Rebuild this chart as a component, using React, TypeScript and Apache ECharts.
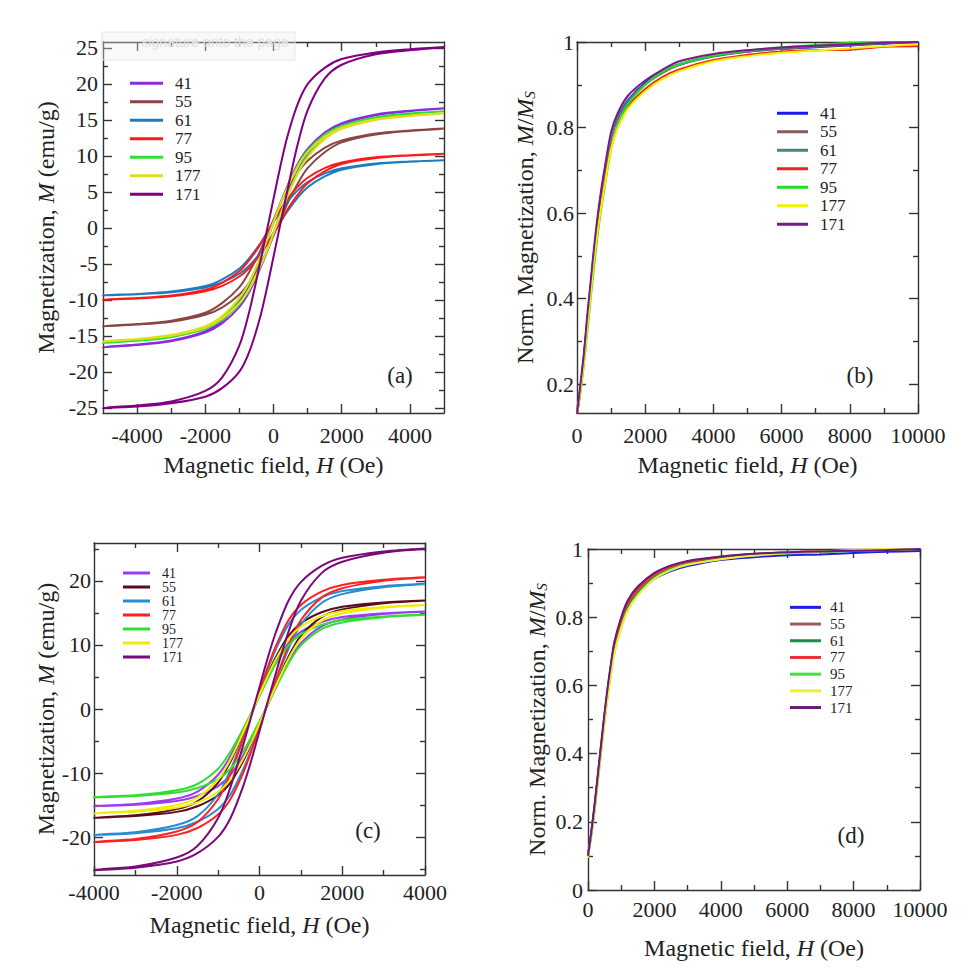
import React, { useEffect, useRef } from 'react';
import * as echarts from 'echarts';

// ---- samples ----
const samples = ['41', '55', '61', '77', '95', '177', '171'];

// ---- field grids (Oe) ----
const fieldA = [-5000, -4000, -3000, -2000, -1500, -1000, -700, -400, -200, 0, 200, 400, 700, 1000, 1500, 2000, 3000, 4000, 5000];
const fieldC = [-4000, -3000, -2000, -1500, -1000, -700, -400, -200, 0, 200, 400, 700, 1000, 1500, 2000, 3000, 4000];
const fieldNorm = [0, 100, 200, 300, 400, 500, 600, 700, 800, 1000, 1200, 1500, 2000, 2500, 3000, 4000, 5000, 6000, 7000, 8000, 9000, 10000];

// ---- panel (a): hysteresis loops, M (emu/g); up = increasing field, down = decreasing field ----
const upA41 = [-16.6, -16.27, -15.74, -14.54, -13.23, -10.97, -8.8, -5.73, -3.45, -0.8, 1.86, 4.45, 7.8, 10.23, 12.83, 14.34, 15.64, 16.2, 16.57];
const downA41 = [-16.57, -16.2, -15.64, -14.34, -12.83, -10.23, -7.8, -4.45, -1.86, 0.8, 3.45, 5.73, 8.8, 10.97, 13.23, 14.54, 15.74, 16.27, 16.6];
const upA55 = [-13.7, -13.43, -13.02, -12.06, -11.03, -9.25, -7.54, -5.21, -3.29, -1.1, 1.1, 3.31, 6.07, 8.28, 10.49, 11.87, 12.97, 13.46, 13.76];
const downA55 = [-13.66, -13.36, -12.88, -11.78, -10.41, -8.22, -6.03, -3.29, -1.1, 1.1, 3.31, 5.24, 7.59, 9.32, 11.11, 12.14, 13.11, 13.52, 13.8];
const upA61 = [-9.4, -9.21, -8.93, -8.27, -7.57, -6.35, -5.17, -3.57, -2.26, -0.75, 0.75, 2.26, 4.14, 5.64, 7.14, 8.08, 8.84, 9.17, 9.37];
const downA61 = [-9.37, -9.17, -8.84, -8.08, -7.14, -5.64, -4.14, -2.26, -0.75, 0.75, 2.26, 3.57, 5.17, 6.35, 7.57, 8.27, 8.93, 9.21, 9.4];
const upA77 = [-10.0, -9.8, -9.5, -8.8, -8.05, -6.75, -5.5, -3.8, -2.4, -0.8, 0.82, 2.47, 4.53, 6.18, 7.83, 8.86, 9.68, 10.04, 10.27];
const downA77 = [-9.97, -9.75, -9.4, -8.6, -7.6, -6.0, -4.4, -2.4, -0.8, 0.82, 2.47, 3.91, 5.67, 6.95, 8.29, 9.06, 9.79, 10.09, 10.3];
const upA95 = [-16.0, -15.68, -15.17, -14.02, -12.75, -10.58, -8.48, -5.52, -3.33, -0.77, 1.81, 4.34, 7.61, 9.98, 12.52, 14.0, 15.26, 15.81, 16.17];
const downA95 = [-15.97, -15.62, -15.07, -13.82, -12.37, -9.86, -7.52, -4.29, -1.79, 0.78, 3.37, 5.59, 8.59, 10.71, 12.91, 14.19, 15.36, 15.88, 16.2];
const upA177 = [-15.8, -15.48, -14.98, -13.84, -12.59, -10.44, -8.37, -5.45, -3.29, -0.76, 1.78, 4.26, 7.47, 9.79, 12.29, 13.74, 14.98, 15.52, 15.87];
const downA177 = [-15.77, -15.42, -14.88, -13.65, -12.21, -9.73, -7.43, -4.23, -1.77, 0.76, 3.31, 5.49, 8.43, 10.51, 12.67, 13.93, 15.07, 15.58, 15.9];
const upA171 = [-25.1, -24.8, -24.35, -23.44, -22.21, -19.95, -17.07, -12.55, -8.53, -4.02, 0.5, 5.02, 11.42, 16.32, 20.71, 22.64, 24.1, 24.65, 25.02];
const downA171 = [-25.02, -24.65, -24.1, -22.64, -20.71, -16.32, -11.42, -5.02, -0.5, 4.02, 8.53, 12.55, 17.07, 19.95, 22.21, 23.44, 24.35, 24.8, 25.1];

// ---- panel (c): hysteresis loops, M (emu/g) ----
const upC41 = [-15.23, -14.94, -14.35, -13.57, -12.04, -10.26, -7.33, -4.86, -2.08, 0.7, 3.47, 7.33, 10.26, 12.89, 13.97, 14.82, 15.17];
const downC41 = [-15.17, -14.82, -13.97, -12.89, -10.26, -7.33, -3.47, -0.7, 2.08, 4.86, 7.33, 10.26, 12.04, 13.57, 14.35, 14.94, 15.23];
const upC55 = [-17.03, -16.71, -16.05, -15.18, -13.46, -11.48, -8.19, -5.44, -2.33, 0.78, 3.85, 8.15, 11.41, 14.33, 15.53, 16.48, 16.87];
const downC55 = [-16.97, -16.58, -15.62, -14.42, -11.48, -8.19, -3.88, -0.78, 2.32, 5.41, 8.15, 11.41, 13.38, 15.09, 15.95, 16.61, 16.93];
const upC61 = [-19.74, -19.37, -18.6, -17.59, -15.6, -13.3, -9.5, -6.3, -2.7, 0.9, 4.45, 9.4, 13.16, 16.54, 17.92, 19.01, 19.46];
const downC61 = [-19.66, -19.21, -18.1, -16.71, -13.3, -9.5, -4.49, -0.91, 2.67, 6.24, 9.4, 13.16, 15.44, 17.41, 18.41, 19.17, 19.54];
const upC77 = [-20.84, -20.45, -19.64, -18.57, -16.47, -14.04, -10.03, -6.66, -2.85, 0.94, 4.67, 9.88, 13.84, 17.38, 18.84, 19.99, 20.46];
const downC77 = [-20.76, -20.28, -19.12, -17.64, -14.04, -10.03, -4.74, -0.96, 2.81, 6.56, 9.88, 13.84, 16.24, 18.31, 19.35, 20.15, 20.54];
const upC95 = [-13.83, -13.57, -13.03, -12.32, -10.93, -9.32, -6.65, -4.42, -1.89, 0.68, 3.35, 7.09, 9.92, 12.47, 13.51, 14.33, 14.67];
const downC95 = [-13.77, -13.46, -12.68, -11.7, -9.32, -6.65, -3.15, -0.63, 2.01, 4.7, 7.09, 9.92, 11.64, 13.13, 13.88, 14.45, 14.73];
const upC177 = [-16.33, -16.02, -15.39, -14.56, -12.91, -11.0, -7.86, -5.22, -2.23, 0.75, 3.69, 7.81, 10.94, 13.74, 14.89, 15.8, 16.17];
const downC177 = [-16.27, -15.89, -14.98, -13.82, -11.0, -7.86, -3.72, -0.75, 2.22, 5.18, 7.81, 10.94, 12.83, 14.47, 15.29, 15.92, 16.23];
const upC171 = [-25.25, -24.77, -23.79, -22.5, -19.96, -17.01, -12.15, -8.06, -3.45, 1.15, 5.7, 12.05, 16.88, 21.2, 22.98, 24.38, 24.95];
const downC171 = [-25.15, -24.57, -23.16, -21.37, -17.01, -12.15, -5.75, -1.16, 3.43, 8.0, 12.05, 16.88, 19.8, 22.33, 23.6, 24.58, 25.05];

// ---- panel (b): normalized magnetization M/Ms ----
const normB41 = [0.13, 0.19, 0.265, 0.35, 0.43, 0.51, 0.58, 0.64, 0.69, 0.78, 0.825, 0.865, 0.905, 0.93, 0.948, 0.968, 0.978, 0.984, 0.988, 0.992, 0.996, 1.0];
const normB55 = [0.13, 0.19, 0.26, 0.345, 0.425, 0.505, 0.575, 0.635, 0.685, 0.775, 0.82, 0.86, 0.9, 0.927, 0.946, 0.966, 0.977, 0.984, 0.989, 0.993, 0.997, 1.0];
const normB61 = [0.13, 0.19, 0.262, 0.347, 0.428, 0.507, 0.578, 0.638, 0.688, 0.777, 0.822, 0.862, 0.902, 0.929, 0.947, 0.967, 0.978, 0.985, 0.99, 0.994, 0.997, 1.0];
const normB77 = [0.13, 0.19, 0.26, 0.34, 0.42, 0.5, 0.565, 0.62, 0.67, 0.755, 0.805, 0.85, 0.89, 0.918, 0.936, 0.958, 0.97, 0.978, 0.981, 0.982, 0.989, 0.99];
const normB95 = [0.13, 0.18, 0.245, 0.32, 0.4, 0.475, 0.545, 0.605, 0.655, 0.75, 0.805, 0.855, 0.9, 0.93, 0.948, 0.968, 0.98, 0.988, 0.993, 0.998, 1.0, 1.0];
const normB177 = [0.13, 0.185, 0.25, 0.33, 0.41, 0.49, 0.555, 0.61, 0.66, 0.75, 0.8, 0.845, 0.885, 0.913, 0.932, 0.955, 0.967, 0.975, 0.98, 0.985, 0.99, 0.995];
const normB171 = [0.13, 0.2, 0.27, 0.36, 0.44, 0.52, 0.59, 0.65, 0.7, 0.79, 0.835, 0.875, 0.91, 0.935, 0.955, 0.972, 0.981, 0.987, 0.991, 0.995, 0.998, 1.0];

// ---- panel (d): normalized magnetization M/Ms ----
const normD41 = [0.1, 0.165, 0.24, 0.33, 0.42, 0.505, 0.585, 0.65, 0.71, 0.78, 0.83, 0.87, 0.912, 0.935, 0.95, 0.968, 0.976, 0.982, 0.984, 0.988, 0.992, 0.994];
const normD55 = [0.1, 0.17, 0.25, 0.34, 0.43, 0.515, 0.595, 0.665, 0.725, 0.795, 0.845, 0.885, 0.927, 0.95, 0.963, 0.977, 0.985, 0.99, 0.993, 0.995, 0.997, 1.0];
const normD61 = [0.1, 0.165, 0.242, 0.332, 0.42, 0.505, 0.583, 0.65, 0.708, 0.778, 0.83, 0.872, 0.918, 0.942, 0.957, 0.972, 0.982, 0.988, 0.992, 0.995, 0.997, 1.0];
const normD77 = [0.1, 0.17, 0.248, 0.338, 0.428, 0.513, 0.592, 0.66, 0.72, 0.79, 0.84, 0.88, 0.924, 0.948, 0.962, 0.976, 0.985, 0.99, 0.993, 0.995, 0.997, 1.0];
const normD95 = [0.1, 0.16, 0.235, 0.322, 0.41, 0.495, 0.573, 0.64, 0.698, 0.77, 0.822, 0.866, 0.914, 0.94, 0.955, 0.97, 0.981, 0.987, 0.991, 0.994, 0.997, 1.0];
const normD177 = [0.095, 0.16, 0.235, 0.32, 0.408, 0.492, 0.57, 0.638, 0.696, 0.768, 0.82, 0.864, 0.912, 0.938, 0.954, 0.97, 0.981, 0.988, 0.993, 0.997, 1.0, 1.0];
const normD171 = [0.1, 0.17, 0.25, 0.34, 0.43, 0.52, 0.6, 0.67, 0.73, 0.8, 0.85, 0.89, 0.93, 0.952, 0.965, 0.978, 0.986, 0.99, 0.993, 0.995, 0.997, 1.0];

// ---- tick positions ----
const ticksA_xMajor = [-4000, -2000, 0, 2000, 4000];
const ticksA_xMinor = [-3000, -1000, 1000, 3000];
const ticksA_yMajor = [-25, -20, -15, -10, -5, 0, 5, 10, 15, 20, 25];
const ticksA_yMinor = [-22.5, -17.5, -12.5, -7.5, -2.5, 2.5, 7.5, 12.5, 17.5, 22.5];
const ticksN_xMajor = [0, 2000, 4000, 6000, 8000, 10000];
const ticksN_xMinor = [1000, 3000, 5000, 7000, 9000];
const ticksB_yMajor = [0.2, 0.4, 0.6, 0.8, 1];
const ticksB_yMinor = [0.3, 0.5, 0.7, 0.9];
const ticksC_xMajor = [-4000, -2000, 0, 2000, 4000];
const ticksC_xMinor = [-3000, -1000, 1000, 3000];
const ticksC_yMajor = [-20, -10, 0, 10, 20];
const ticksC_yMinor = [-25, -15, -5, 5, 15, 25];
const ticksD_yMajor = [0, 0.2, 0.4, 0.6, 0.8, 1];
const ticksD_yMinor = [0.1, 0.3, 0.5, 0.7, 0.9];

// ---- colours per panel, in sample order ----
const coloursA = ['#8a2be2', '#8b4545', '#1c7cbf', '#ff1a1a', '#33dd33', '#dede1e', '#800080'];
const coloursB = ['#1a1aee', '#8b5a5a', '#4f8080', '#ee2222', '#22dd22', '#f2f200', '#7a1a8a'];
const coloursC = ['#9a3cf0', '#5c0a1e', '#2a8cd0', '#ff2020', '#33dd33', '#eeee00', '#7a0a7a'];
const coloursD = ['#1e1ee6', '#a05a5a', '#1f8a4a', '#e83030', '#44dd44', '#f0f030', '#6a1a7a'];

const loopsA = [[upA41, downA41], [upA55, downA55], [upA61, downA61], [upA77, downA77], [upA95, downA95], [upA177, downA177], [upA171, downA171]];
const loopsC = [[upC41, downC41], [upC55, downC55], [upC61, downC61], [upC77, downC77], [upC95, downC95], [upC177, downC177], [upC171, downC171]];
const curvesB = [normB41, normB55, normB61, normB77, normB95, normB177, normB171];
const curvesD = [normD41, normD55, normD61, normD77, normD95, normD177, normD171];

const FONT = 'Liberation Serif';
const INK = '#222222';
const FRAME = { color: '#333333', width: 1.4 };

// descending branch from +Hmax to -Hmax, then ascending branch back
function loopPoints(field: number[], up: number[], down: number[]) {
  const pts: number[][] = [];
  for (let i = field.length - 1; i >= 0; i--) pts.push([field[i], down[i]]);
  for (let i = 0; i < field.length; i++) pts.push([field[i], up[i]]);
  return pts;
}

function curvePoints(field: number[], vals: number[]) {
  return field.map((h, i) => [h, vals[i]]);
}

const nameStyle = (size: number) => ({
  fontFamily: FONT,
  fontSize: size,
  color: INK,
  rich: {
    i: { fontFamily: FONT, fontSize: size, fontStyle: 'italic', color: INK },
    s: { fontFamily: FONT, fontSize: 15, fontStyle: 'italic', color: INK, verticalAlign: 'bottom' },
  },
});

function xAxes(grid: number, min: number, max: number, major: number[], minor: number[], margin: number, nameGap: number) {
  const base: any = {
    type: 'value', gridIndex: grid, min, max,
    splitLine: { show: false },
    axisLine: { show: false, onZero: false },
    axisLabel: { show: false },
    axisTick: { show: false },
  };
  return [
    {
      ...base, position: 'bottom',
      axisLine: { show: true, onZero: false, lineStyle: FRAME },
      axisTick: { show: true, inside: true, length: 9, customValues: major, lineStyle: FRAME },
      axisLabel: { show: true, customValues: major, formatter: (v: number) => String(v), margin, fontFamily: FONT, fontSize: 22, color: INK },
      name: 'Magnetic field, {i|H} (Oe)', nameLocation: 'middle', nameGap,
      nameTextStyle: nameStyle(24),
    },
    { ...base, position: 'bottom', axisTick: { show: true, inside: true, length: 5, customValues: minor, lineStyle: FRAME } },
    {
      ...base, position: 'top',
      axisLine: { show: true, onZero: false, lineStyle: FRAME },
      axisTick: { show: true, inside: true, length: 9, customValues: major, lineStyle: FRAME },
    },
    { ...base, position: 'top', axisTick: { show: true, inside: true, length: 5, customValues: minor, lineStyle: FRAME } },
  ];
}

function yAxes(grid: number, min: number, max: number, major: number[], minor: number[], margin: number, name: string, nameGap: number) {
  const base: any = {
    type: 'value', gridIndex: grid, min, max,
    splitLine: { show: false },
    axisLine: { show: false, onZero: false },
    axisLabel: { show: false },
    axisTick: { show: false },
  };
  return [
    {
      ...base, position: 'left',
      axisLine: { show: true, onZero: false, lineStyle: FRAME },
      axisTick: { show: true, inside: true, length: 9, customValues: major, lineStyle: FRAME },
      axisLabel: { show: true, customValues: major, formatter: (v: number) => String(v), margin, fontFamily: FONT, fontSize: 22, color: INK },
      name, nameLocation: 'middle', nameGap, nameRotate: 90,
      nameTextStyle: nameStyle(24),
    },
    { ...base, position: 'left', axisTick: { show: true, inside: true, length: 5, customValues: minor, lineStyle: FRAME } },
    {
      ...base, position: 'right',
      axisLine: { show: true, onZero: false, lineStyle: FRAME },
      axisTick: { show: true, inside: true, length: 9, customValues: major, lineStyle: FRAME },
    },
    { ...base, position: 'right', axisTick: { show: true, inside: true, length: 5, customValues: minor, lineStyle: FRAME } },
  ];
}

function lineSeries(prefix: string, panel: number, colours: string[], pointsFor: (i: number) => number[][]) {
  return samples.map((s, i) => ({
    type: 'line',
    name: prefix + s,
    xAxisIndex: panel * 4,
    yAxisIndex: panel * 4,
    data: pointsFor(i),
    showSymbol: false,
    symbol: 'none',
    smooth: 0.3,
    color: colours[i],
    lineStyle: { width: 2, color: colours[i] },
    silent: true,
  }));
}

function legendFor(prefix: string, left: number, top: number, itemWidth: number, fontSize: number, rowHeight: number, textGap: number) {
  return {
    data: samples.map((s) => prefix + s),
    formatter: (n: string) => n.slice(1),
    orient: 'vertical',
    left, top,
    padding: 0,
    itemGap: 0,
    itemWidth,
    itemHeight: 3,
    icon: 'rect',
    selectedMode: false,
    textStyle: { fontFamily: FONT, fontSize, lineHeight: rowHeight, color: INK, padding: [0, 0, 0, textGap - 5] },
  };
}

const panelTag = (text: string, x: number, y: number) => ({
  type: 'text', x, y, z: 50,
  style: { text, fontFamily: FONT, fontSize: 23, fill: INK, align: 'center', verticalAlign: 'middle' },
});

export default function App() {
  const ref = useRef<HTMLDivElement>(null);

  useEffect(() => {
    if (!ref.current) return;
    const chart = echarts.init(ref.current, undefined, { renderer: 'svg' });

    const option: any = {
      animation: false,
      backgroundColor: '#ffffff',
      textStyle: { fontFamily: FONT },
      grid: [
        { left: 103, top: 42, width: 341, height: 371 },
        { left: 577, top: 42, width: 341, height: 371 },
        { left: 94, top: 543, width: 331, height: 332 },
        { left: 588, top: 549, width: 332, height: 341 },
      ],
      xAxis: [
        ...xAxes(0, -5000, 5000, ticksA_xMajor, ticksA_xMinor, 11, 40),
        ...xAxes(1, 0, 10000, ticksN_xMajor, ticksN_xMinor, 11, 40),
        ...xAxes(2, -4000, 4000, ticksC_xMajor, ticksC_xMinor, 6, 38),
        ...xAxes(3, 0, 10000, ticksN_xMajor, ticksN_xMinor, 8, 46),
      ],
      yAxis: [
        ...yAxes(0, -25.7, 25.8, ticksA_yMajor, ticksA_yMinor, 5, 'Magnetization, {i|M} (emu/g)', 45),
        ...yAxes(1, 0.133, 1, ticksB_yMajor, ticksB_yMinor, 3, 'Norm. Magnetization, {i|M}/{i|M}{s|S}', 40),
        ...yAxes(2, -25.9, 25.9, ticksC_yMajor, ticksC_yMinor, 3, 'Magnetization, {i|M} (emu/g)', 36),
        ...yAxes(3, 0, 1, ticksD_yMajor, ticksD_yMinor, 5, 'Norm. Magnetization, {i|M}/{i|M}{s|S}', 39),
      ],
      legend: [
        legendFor('a', 130, 74, 33, 17, 18.5, 12),
        legendFor('b', 777, 104, 31, 17, 18.5, 12),
        legendFor('c', 123, 566, 27, 14, 13.8, 12),
        legendFor('d', 790, 599, 31, 15, 16.7, 9),
      ],
      series: [
        ...lineSeries('a', 0, coloursA, (i) => loopPoints(fieldA, loopsA[i][0], loopsA[i][1])),
        ...lineSeries('b', 1, coloursB, (i) => curvePoints(fieldNorm, curvesB[i])),
        ...lineSeries('c', 2, coloursC, (i) => loopPoints(fieldC, loopsC[i][0], loopsC[i][1])),
        ...lineSeries('d', 3, coloursD, (i) => curvePoints(fieldNorm, curvesD[i])),
      ],
      graphic: [
        panelTag('(a)', 400, 375),
        panelTag('(b)', 860, 375),
        panelTag('(c)', 368, 830),
        panelTag('(d)', 851, 835),
        {
          type: 'rect', z: 60,
          shape: { x: 102, y: 32, width: 193, height: 28 },
          style: { fill: 'rgba(238,238,238,0.35)', stroke: '#e6e6e6', lineWidth: 1 },
        },
        {
          type: 'text', x: 215, y: 42, z: 61,
          style: { text: 'signature onto the page', fontFamily: 'Liberation Sans', fontSize: 14, fill: '#e0e0e0', align: 'center', verticalAlign: 'middle' },
        },
      ],
    };

    chart.setOption(option);
    return () => chart.dispose();
  }, []);

  return (
    <div
      ref={ref}
      style={{ position: 'absolute', left: 0, top: 0, width: 977, height: 976, background: '#fff' }}
    />
  );
}
